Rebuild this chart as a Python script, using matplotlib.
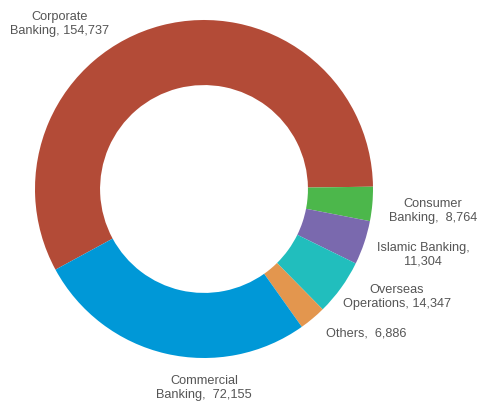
import matplotlib.pyplot as plt

# segment data, clockwise from the lower left
segments = ['Corporate\nBanking, 154,737', 'Consumer\nBanking,  8,764',
            'Islamic Banking,\n11,304', 'Overseas\nOperations, 14,347',
            'Others,  6,886', 'Commercial\nBanking,  72,155']
values = [154737, 8764, 11304, 14347, 6886, 72155]
colors = ['#b34b37', '#4cb74b', '#7a69ae', '#21bebd', '#e3964e', '#0098d7']

# label anchor points in pixel space (x, y from top)
label_pos = [(60, 24), (433, 211), (423, 255), (397, 297), (366, 334), (204, 388)]

W, H = 478, 405
fig = plt.figure(figsize=(W / 100, H / 100), dpi=100)
ax = fig.add_axes([0, 0, 1, 1])

cx, cy, r = 204, H - 189, 169
ax.pie(values, colors=colors, startangle=208.5, counterclock=False,
       center=(cx, cy), radius=r, frame=True,
       wedgeprops=dict(width=r * 0.385, linewidth=0))
ax.set_xlim(0, W)
ax.set_ylim(0, H)
ax.set_aspect('equal')
ax.axis('off')

for text, (x, y) in zip(segments, label_pos):
    ax.text(x, H - y, text, ha='center', va='center', fontsize=9.2,
            color='#555555', linespacing=1.2, family='Liberation Sans')

fig.savefig('out.png', dpi=100)
